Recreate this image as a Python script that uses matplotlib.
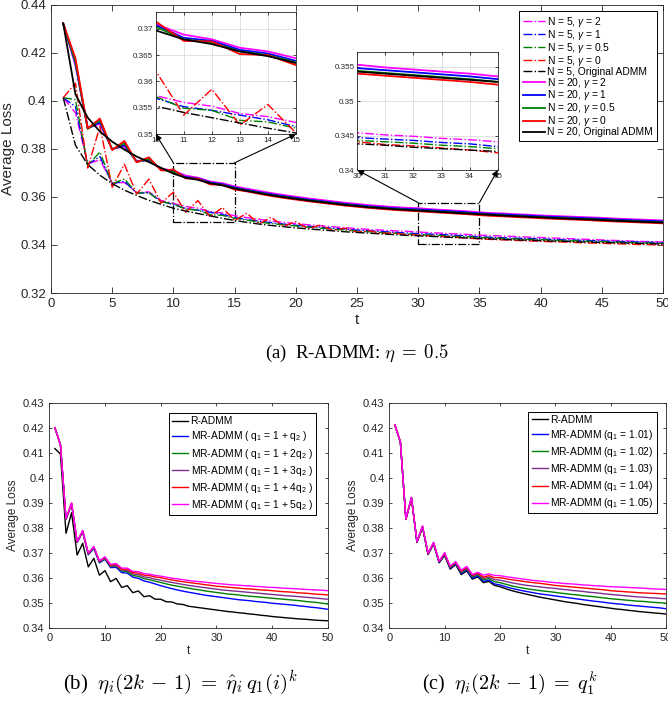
import numpy as np
import matplotlib.pyplot as plt
from matplotlib.patches import Rectangle, ConnectionPatch

plt.rcParams['font.family'] = 'Liberation Sans'
plt.rcParams['mathtext.fontset'] = 'custom'
plt.rcParams['mathtext.rm'] = 'Liberation Sans'
plt.rcParams['mathtext.it'] = 'Liberation Sans:italic'
plt.rcParams['mathtext.bf'] = 'Liberation Sans:bold'

t = np.arange(1, 51)

# ---- (a) R-ADMM, eta = 0.5 ----
n5_g2 = [0.4013, 0.3950, 0.3738, 0.3754, 0.3658, 0.3660, 0.3618, 0.3621, 0.3585, 0.3573,
         0.3560, 0.3553, 0.3539, 0.3533, 0.3522, 0.3514, 0.3507, 0.3500, 0.3494, 0.3489,
         0.3484, 0.3480, 0.3476, 0.3472, 0.3468, 0.3465, 0.3462, 0.3459, 0.3457, 0.3454,
         0.3451, 0.3449, 0.3446, 0.3444, 0.3441, 0.3439, 0.3437, 0.3435, 0.3433, 0.3431,
         0.3429, 0.3427, 0.3425, 0.3423, 0.3421, 0.3419, 0.3417, 0.3415, 0.3414, 0.3412]
n5_g1 = [0.4013, 0.3976, 0.3735, 0.3768, 0.3655, 0.3665, 0.3616, 0.3617, 0.3582, 0.3568,
         0.3552, 0.3545, 0.3536, 0.3527, 0.3514, 0.3506, 0.3499, 0.3493, 0.3487, 0.3482,
         0.3478, 0.3474, 0.3470, 0.3466, 0.3462, 0.3459, 0.3456, 0.3453, 0.3450, 0.3447,
         0.3445, 0.3443, 0.3440, 0.3438, 0.3434, 0.3432, 0.3430, 0.3428, 0.3427, 0.3425,
         0.3423, 0.3421, 0.3420, 0.3418, 0.3417, 0.3415, 0.3414, 0.3412, 0.3411, 0.3409]
n5_g05 = [0.4013, 0.4005, 0.3730, 0.3787, 0.3655, 0.3675, 0.3615, 0.3618, 0.3580, 0.3571,
          0.3549, 0.3545, 0.3526, 0.3523, 0.3511, 0.3503, 0.3495, 0.3489, 0.3484, 0.3479,
          0.3474, 0.3470, 0.3466, 0.3462, 0.3458, 0.3455, 0.3452, 0.3449, 0.3446, 0.3443,
          0.3441, 0.3439, 0.3436, 0.3434, 0.3431, 0.3429, 0.3427, 0.3425, 0.3424, 0.3422,
          0.3420, 0.3418, 0.3417, 0.3415, 0.3414, 0.3412, 0.3411, 0.3409, 0.3408, 0.3406]
n5_g0 = [0.4013, 0.4073, 0.3720, 0.3893, 0.3640, 0.3736, 0.3612, 0.3674, 0.3574, 0.3620,
         0.3536, 0.3585, 0.3517, 0.3556, 0.3502, 0.3532, 0.3488, 0.3515, 0.3478, 0.3497,
         0.3468, 0.3483, 0.3460, 0.3470, 0.3453, 0.3459, 0.3448, 0.3450, 0.3443, 0.3441,
         0.3437, 0.3435, 0.3432, 0.3429, 0.3425, 0.3423, 0.3421, 0.3419, 0.3417, 0.3415,
         0.3413, 0.3412, 0.3410, 0.3408, 0.3407, 0.3405, 0.3404, 0.3402, 0.3401, 0.3400]
n5_orig = [0.4013, 0.3815, 0.3735, 0.3690, 0.3655, 0.3628, 0.3606, 0.3586, 0.3569, 0.3553,
           0.3541, 0.3531, 0.3521, 0.3511, 0.3502, 0.3494, 0.3487, 0.3481, 0.3476, 0.3471,
           0.3467, 0.3463, 0.3459, 0.3455, 0.3452, 0.3449, 0.3446, 0.3443, 0.3440, 0.3438,
           0.3436, 0.3433, 0.3431, 0.3429, 0.3427, 0.3425, 0.3423, 0.3421, 0.3420, 0.3418,
           0.3416, 0.3415, 0.3413, 0.3412, 0.3410, 0.3409, 0.3408, 0.3406, 0.3405, 0.3404]
n20_g2 = [0.4322, 0.4148, 0.3888, 0.3904, 0.3800, 0.3810, 0.3750, 0.3752, 0.3718, 0.3709,
          0.3689, 0.3680, 0.3664, 0.3657, 0.3644, 0.3634, 0.3625, 0.3616, 0.3608, 0.3601,
          0.3594, 0.3588, 0.3582, 0.3576, 0.3571, 0.3566, 0.3562, 0.3558, 0.3555, 0.3553,
          0.3549, 0.3546, 0.3543, 0.3540, 0.3536, 0.3533, 0.3531, 0.3528, 0.3526, 0.3523,
          0.3521, 0.3519, 0.3517, 0.3515, 0.3513, 0.3510, 0.3508, 0.3506, 0.3504, 0.3502]
n20_g1 = [0.4322, 0.4155, 0.3885, 0.3910, 0.3798, 0.3816, 0.3747, 0.3755, 0.3715, 0.3707,
          0.3683, 0.3677, 0.3660, 0.3653, 0.3639, 0.3629, 0.3620, 0.3611, 0.3603, 0.3596,
          0.3589, 0.3583, 0.3577, 0.3571, 0.3566, 0.3561, 0.3557, 0.3553, 0.3550, 0.3548,
          0.3545, 0.3542, 0.3539, 0.3536, 0.3532, 0.3529, 0.3527, 0.3524, 0.3522, 0.3519,
          0.3517, 0.3515, 0.3513, 0.3511, 0.3509, 0.3506, 0.3504, 0.3502, 0.3500, 0.3498]
n20_g05 = [0.4322, 0.4162, 0.3883, 0.3918, 0.3797, 0.3823, 0.3745, 0.3758, 0.3713, 0.3704,
           0.3680, 0.3674, 0.3657, 0.3650, 0.3636, 0.3626, 0.3617, 0.3608, 0.3600, 0.3593,
           0.3586, 0.3580, 0.3574, 0.3568, 0.3563, 0.3558, 0.3554, 0.3550, 0.3547, 0.3544,
           0.3541, 0.3538, 0.3535, 0.3532, 0.3528, 0.3526, 0.3523, 0.3520, 0.3518, 0.3515,
           0.3513, 0.3511, 0.3509, 0.3507, 0.3505, 0.3502, 0.3500, 0.3498, 0.3496, 0.3494]
n20_g0 = [0.4322, 0.4177, 0.3885, 0.3926, 0.3795, 0.3833, 0.3744, 0.3765, 0.3710, 0.3714,
          0.3677, 0.3676, 0.3652, 0.3650, 0.3631, 0.3623, 0.3613, 0.3604, 0.3596, 0.3589,
          0.3582, 0.3576, 0.3570, 0.3564, 0.3559, 0.3554, 0.3550, 0.3546, 0.3543, 0.3540,
          0.3537, 0.3534, 0.3531, 0.3528, 0.3524, 0.3521, 0.3519, 0.3516, 0.3514, 0.3511,
          0.3509, 0.3507, 0.3505, 0.3503, 0.3500, 0.3498, 0.3496, 0.3494, 0.3492, 0.3490]
n20_orig = [0.4322, 0.4027, 0.3930, 0.3872, 0.3830, 0.3797, 0.3768, 0.3745, 0.3721, 0.3697,
            0.3680, 0.3671, 0.3657, 0.3648, 0.3635, 0.3625, 0.3616, 0.3607, 0.3599, 0.3592,
            0.3585, 0.3579, 0.3573, 0.3567, 0.3562, 0.3557, 0.3553, 0.3549, 0.3546, 0.3543,
            0.3540, 0.3537, 0.3534, 0.3531, 0.3528, 0.3525, 0.3522, 0.3520, 0.3517, 0.3515,
            0.3512, 0.3510, 0.3508, 0.3506, 0.3504, 0.3501, 0.3499, 0.3497, 0.3495, 0.3493]

top_series = [n5_g2, n5_g1, n5_g05, n5_g0, n5_orig, n20_g2, n20_g1, n20_g05, n20_g0, n20_orig]
top_labels = ['N = 5, $\\gamma$ = 2', 'N = 5, $\\gamma$ = 1', 'N = 5, $\\gamma$ = 0.5',
              'N = 5, $\\gamma$ = 0', 'N = 5, Original ADMM',
              'N = 20, $\\gamma$ = 2', 'N = 20, $\\gamma$ = 1', 'N = 20, $\\gamma$ = 0.5',
              'N = 20, $\\gamma$ = 0', 'N = 20, Original ADMM']
top_colors = ['#ff00ff', '#0000ff', '#008000', '#ff0000', '#000000'] * 2
top_styles = ['-.'] * 5 + ['-'] * 5

# zoom windows: box drawn on the main axes, limits of the inset
box1 = [10, 15, 0.3494, 0.3742]
box2 = [30, 35, 0.3405, 0.3576]
inset1_ylim = [0.35, 0.3732]
inset2_ylim = [0.34, 0.3571]

# ---- (b) eta_i(2k-1) = eta_hat q1(i)^k ----
b_radmm = [0.4117, 0.4095, 0.3779, 0.3861, 0.3692, 0.3739, 0.3645, 0.3679, 0.3612, 0.3630,
           0.3586, 0.3599, 0.3563, 0.3570, 0.3542, 0.3549, 0.3526, 0.3530, 0.3516, 0.3516,
           0.3506, 0.3505, 0.3497, 0.3495, 0.3488, 0.3485, 0.3482, 0.3479, 0.3476, 0.3473,
           0.3470, 0.3467, 0.3465, 0.3462, 0.3460, 0.3457, 0.3455, 0.3452, 0.3450, 0.3447,
           0.3445, 0.3443, 0.3441, 0.3439, 0.3437, 0.3436, 0.3434, 0.3432, 0.3431, 0.3430]
b_q1 = [0.4200, 0.4131, 0.3834, 0.3896, 0.3742, 0.3784, 0.3693, 0.3718, 0.3661, 0.3675,
        0.3642, 0.3643, 0.3622, 0.3620, 0.3604, 0.3599, 0.3589, 0.3584, 0.3577, 0.3570,
        0.3564, 0.3558, 0.3553, 0.3548, 0.3544, 0.3540, 0.3536, 0.3532, 0.3529, 0.3526,
        0.3523, 0.3520, 0.3517, 0.3514, 0.3512, 0.3510, 0.3507, 0.3505, 0.3503, 0.3500,
        0.3498, 0.3496, 0.3494, 0.3492, 0.3489, 0.3487, 0.3484, 0.3482, 0.3479, 0.3476]
b_q2 = [0.4200, 0.4132, 0.3835, 0.3897, 0.3743, 0.3786, 0.3695, 0.3721, 0.3664, 0.3678,
        0.3646, 0.3648, 0.3628, 0.3626, 0.3611, 0.3607, 0.3598, 0.3594, 0.3588, 0.3583,
        0.3577, 0.3572, 0.3568, 0.3564, 0.3560, 0.3556, 0.3553, 0.3549, 0.3546, 0.3543,
        0.3540, 0.3537, 0.3535, 0.3533, 0.3530, 0.3528, 0.3526, 0.3524, 0.3522, 0.3520,
        0.3518, 0.3516, 0.3514, 0.3512, 0.3510, 0.3507, 0.3505, 0.3503, 0.3500, 0.3497]
b_q3 = [0.4200, 0.4133, 0.3836, 0.3898, 0.3744, 0.3787, 0.3697, 0.3723, 0.3666, 0.3681,
        0.3649, 0.3651, 0.3632, 0.3631, 0.3617, 0.3614, 0.3605, 0.3602, 0.3596, 0.3592,
        0.3587, 0.3583, 0.3579, 0.3575, 0.3571, 0.3568, 0.3565, 0.3562, 0.3559, 0.3556,
        0.3553, 0.3551, 0.3549, 0.3547, 0.3545, 0.3543, 0.3541, 0.3539, 0.3537, 0.3535,
        0.3533, 0.3531, 0.3529, 0.3528, 0.3526, 0.3524, 0.3522, 0.3520, 0.3518, 0.3516]
b_q4 = [0.4200, 0.4133, 0.3837, 0.3899, 0.3745, 0.3789, 0.3699, 0.3725, 0.3668, 0.3683,
        0.3652, 0.3655, 0.3636, 0.3636, 0.3622, 0.3620, 0.3612, 0.3610, 0.3605, 0.3602,
        0.3597, 0.3593, 0.3589, 0.3586, 0.3583, 0.3580, 0.3577, 0.3574, 0.3571, 0.3568,
        0.3566, 0.3564, 0.3562, 0.3560, 0.3558, 0.3557, 0.3555, 0.3553, 0.3552, 0.3550,
        0.3548, 0.3546, 0.3545, 0.3543, 0.3541, 0.3540, 0.3538, 0.3536, 0.3535, 0.3533]
b_q5 = [0.4200, 0.4134, 0.3838, 0.3900, 0.3746, 0.3790, 0.3700, 0.3726, 0.3670, 0.3685,
        0.3655, 0.3658, 0.3640, 0.3640, 0.3627, 0.3626, 0.3618, 0.3616, 0.3611, 0.3608,
        0.3604, 0.3600, 0.3597, 0.3594, 0.3591, 0.3588, 0.3586, 0.3584, 0.3581, 0.3579,
        0.3577, 0.3575, 0.3573, 0.3572, 0.3570, 0.3569, 0.3567, 0.3566, 0.3564, 0.3563,
        0.3562, 0.3560, 0.3559, 0.3558, 0.3557, 0.3555, 0.3554, 0.3553, 0.3552, 0.3550]
b_labels = ['R-ADMM', 'MR-ADMM ( q$_1$ = 1 + q$_2$ )', 'MR-ADMM ( q$_1$ = 1 + 2q$_2$ )',
            'MR-ADMM ( q$_1$ = 1 + 3q$_2$ )', 'MR-ADMM ( q$_1$ = 1 + 4q$_2$ )',
            'MR-ADMM ( q$_1$ = 1 + 5q$_2$ )']

# ---- (c) eta_i(2k-1) = q1^k ----
c_radmm = [0.4211, 0.4143, 0.3834, 0.3919, 0.3742, 0.3803, 0.3694, 0.3736, 0.3661, 0.3690,
           0.3636, 0.3654, 0.3614, 0.3629, 0.3596, 0.3605, 0.3582, 0.3587, 0.3571, 0.3566,
           0.3558, 0.3551, 0.3545, 0.3540, 0.3535, 0.3530, 0.3525, 0.3521, 0.3517, 0.3513,
           0.3509, 0.3505, 0.3502, 0.3499, 0.3495, 0.3492, 0.3489, 0.3486, 0.3483, 0.3480,
           0.3477, 0.3475, 0.3472, 0.3470, 0.3467, 0.3465, 0.3463, 0.3461, 0.3459, 0.3457]
c_101 = [0.4211, 0.4143, 0.3835, 0.3920, 0.3743, 0.3804, 0.3696, 0.3738, 0.3663, 0.3693,
         0.3639, 0.3657, 0.3618, 0.3633, 0.3600, 0.3609, 0.3587, 0.3592, 0.3577, 0.3573,
         0.3566, 0.3560, 0.3555, 0.3550, 0.3546, 0.3542, 0.3538, 0.3535, 0.3532, 0.3529,
         0.3526, 0.3523, 0.3520, 0.3517, 0.3514, 0.3511, 0.3508, 0.3506, 0.3503, 0.3500,
         0.3498, 0.3496, 0.3493, 0.3491, 0.3489, 0.3487, 0.3485, 0.3483, 0.3481, 0.3478]
c_102 = [0.4211, 0.4144, 0.3835, 0.3921, 0.3744, 0.3805, 0.3697, 0.3740, 0.3665, 0.3695,
         0.3642, 0.3660, 0.3622, 0.3637, 0.3605, 0.3614, 0.3593, 0.3598, 0.3586, 0.3582,
         0.3576, 0.3570, 0.3565, 0.3561, 0.3557, 0.3554, 0.3551, 0.3548, 0.3546, 0.3543,
         0.3540, 0.3538, 0.3535, 0.3533, 0.3530, 0.3528, 0.3526, 0.3523, 0.3521, 0.3518,
         0.3516, 0.3514, 0.3512, 0.3510, 0.3508, 0.3507, 0.3505, 0.3503, 0.3502, 0.3500]
c_103 = [0.4211, 0.4144, 0.3836, 0.3921, 0.3744, 0.3806, 0.3698, 0.3741, 0.3666, 0.3697,
         0.3644, 0.3662, 0.3625, 0.3641, 0.3609, 0.3618, 0.3599, 0.3604, 0.3594, 0.3592,
         0.3587, 0.3582, 0.3578, 0.3574, 0.3571, 0.3568, 0.3566, 0.3563, 0.3561, 0.3559,
         0.3556, 0.3554, 0.3551, 0.3549, 0.3547, 0.3544, 0.3542, 0.3540, 0.3537, 0.3535,
         0.3533, 0.3531, 0.3529, 0.3527, 0.3525, 0.3524, 0.3522, 0.3521, 0.3519, 0.3518]
c_104 = [0.4211, 0.4144, 0.3836, 0.3922, 0.3745, 0.3807, 0.3699, 0.3742, 0.3667, 0.3699,
         0.3646, 0.3664, 0.3628, 0.3644, 0.3612, 0.3620, 0.3604, 0.3610, 0.3602, 0.3602,
         0.3598, 0.3594, 0.3591, 0.3588, 0.3585, 0.3582, 0.3580, 0.3577, 0.3574, 0.3571,
         0.3569, 0.3567, 0.3565, 0.3563, 0.3561, 0.3559, 0.3557, 0.3555, 0.3553, 0.3550,
         0.3548, 0.3547, 0.3545, 0.3544, 0.3542, 0.3541, 0.3540, 0.3539, 0.3538, 0.3537]
c_105 = [0.4211, 0.4144, 0.3836, 0.3922, 0.3746, 0.3808, 0.3700, 0.3743, 0.3668, 0.3702,
         0.3648, 0.3666, 0.3632, 0.3647, 0.3615, 0.3623, 0.3612, 0.3617, 0.3611, 0.3610,
         0.3606, 0.3603, 0.3600, 0.3597, 0.3594, 0.3591, 0.3589, 0.3587, 0.3584, 0.3582,
         0.3580, 0.3578, 0.3577, 0.3575, 0.3573, 0.3572, 0.3570, 0.3569, 0.3567, 0.3566,
         0.3565, 0.3564, 0.3563, 0.3562, 0.3561, 0.3560, 0.3558, 0.3557, 0.3556, 0.3555]
c_labels = ['R-ADMM', 'MR-ADMM (q$_1$ = 1.01)', 'MR-ADMM (q$_1$ = 1.02)',
            'MR-ADMM (q$_1$ = 1.03)', 'MR-ADMM (q$_1$ = 1.04)', 'MR-ADMM (q$_1$ = 1.05)']
bc_colors = ['#000000', '#0000ff', '#008000', '#7e2f8e', '#ff0000', '#ff00ff']

tick_col = '#262626'


def matlab_style(a, fs, tlen):
    a.tick_params(direction='in', top=True, right=True, labelsize=fs, colors=tick_col,
                  length=tlen, width=0.6)
    for s in a.spines.values():
        s.set_color(tick_col)
        s.set_linewidth(0.6)


def fmt(v):
    return ('%.3f' % v).rstrip('0').rstrip('.')


fig = plt.figure(figsize=(6.68, 7.02), dpi=100)

# main plot (a)
ax = fig.add_axes([0.0763, 0.5826, 0.9162, 0.4107])
for ys, lab, c, ls in zip(top_series, top_labels, top_colors, top_styles):
    ax.plot(t, ys, ls, color=c, lw=1.3 if ls == '-' else 1.0, label=lab)
ax.set_xlim(0, 50)
ax.set_ylim(0.32, 0.44)
ax.set_xticks(np.arange(0, 51, 5))
yt = np.arange(0.32, 0.4401, 0.02)
ax.set_yticks(yt)
ax.set_yticklabels([fmt(v) for v in yt])
matlab_style(ax, 9.5, 4)
ax.set_xlabel('t', fontsize=11, color=tick_col, labelpad=2)
ax.set_ylabel('Average Loss', fontsize=11, color=tick_col, labelpad=4)
leg = ax.legend(loc='upper right', bbox_to_anchor=(0.9897, 0.978), borderaxespad=0,
                fontsize=7.4, handlelength=2.2, handletextpad=0.2, labelspacing=-0.1,
                borderpad=0.35, fancybox=False, framealpha=1, edgecolor='#000000')
leg.get_frame().set_linewidth(0.7)

for b in [box1, box2]:
    ax.add_patch(Rectangle((b[0], b[2]), b[1] - b[0], b[3] - b[2], fill=False,
                           ls='-.', lw=0.9, ec='k'))

ins1 = fig.add_axes([0.2331, 0.8091, 0.2100, 0.1738])
ins2 = fig.add_axes([0.5349, 0.7578, 0.2102, 0.1677])
for ins, b, yl, yt_ins in [(ins1, box1, inset1_ylim, [0.35, 0.355, 0.36, 0.365, 0.37]),
                           (ins2, box2, inset2_ylim, [0.34, 0.345, 0.35, 0.355])]:
    for ys, c, ls in zip(top_series, top_colors, top_styles):
        ins.plot(t, ys, ls, color=c, lw=1.3 if ls == '-' else 1.0)
    ins.set_xlim(b[0], b[1])
    ins.set_ylim(yl)
    ins.set_xticks(np.arange(b[0], b[1] + 1))
    ins.set_yticks(yt_ins)
    ins.set_yticklabels([fmt(v) for v in yt_ins])
    ins.grid(True, color='#dcdcdc', lw=0.6)
    ins.set_axisbelow(True)
    matlab_style(ins, 5.8, 2.5)
    ins.tick_params(pad=2)
    for xa, xb in [(b[0], 0), (b[1], 1)]:
        con = ConnectionPatch(xyA=(xa, b[3]), coordsA=ax.transData,
                              xyB=(xb, 0), coordsB=ins.transAxes,
                              arrowstyle='-|>', mutation_scale=9, lw=0.8, color='k')
        fig.add_artist(con)

# bottom plots (b) and (c)
axb = fig.add_axes([0.0738, 0.105, 0.4168, 0.3214])
axc = fig.add_axes([0.5828, 0.105, 0.4142, 0.3214])
for a, series, labels, anchor in [
        (axb, [b_radmm, b_q1, b_q2, b_q3, b_q4, b_q5], b_labels, (0.958, 0.953)),
        (axc, [c_radmm, c_101, c_102, c_103, c_104, c_105], c_labels, (0.966, 0.960))]:
    for ys, lab, c in zip(series, labels, bc_colors):
        a.plot(t, ys, '-', color=c, lw=1.0, label=lab)
    a.set_xlim(0, 50)
    a.set_ylim(0.34, 0.43)
    a.set_xticks(np.arange(0, 51, 10))
    ytb = np.arange(0.34, 0.4301, 0.01)
    a.set_yticks(ytb)
    a.set_yticklabels([fmt(v) for v in ytb])
    matlab_style(a, 8, 2.5)
    a.set_xlabel('t', fontsize=8.5, color=tick_col, labelpad=1)
    a.set_ylabel('Average Loss', fontsize=8.5, color=tick_col, labelpad=3)
    lg = a.legend(loc='upper right', bbox_to_anchor=anchor, borderaxespad=0,
                  fontsize=7.4, handlelength=1.6, handletextpad=0.2, labelspacing=0.3,
                  borderpad=0.3, fancybox=False, framealpha=1, edgecolor='#000000')
    lg.get_frame().set_linewidth(0.7)

cap_kw = dict(family='Liberation Serif', math_fontfamily='cm', ha='center', va='center')
fig.text(0.5344, 0.497, r'(a)  R-ADMM: $\eta\;=\;0.5$', fontsize=13.5, **cap_kw)
fig.text(0.2695, 0.027, r'(b)  $\eta_i(2k\,-\,1)\;=\;\hat{\eta}_i\,q_1(i)^k$',
         fontsize=15, **cap_kw)
fig.text(0.7635, 0.027, r'(c)  $\eta_i(2k\,-\,1)\;=\;q_1^k$', fontsize=14.5, **cap_kw)

fig.savefig('out.png', dpi=100)
